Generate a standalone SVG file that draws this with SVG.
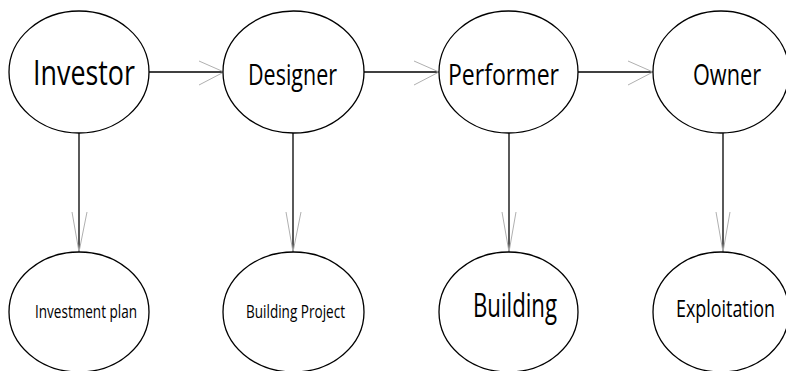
<svg xmlns="http://www.w3.org/2000/svg" width="786" height="371" viewBox="0 0 786 371">
<style>
.n{fill:#fff;stroke:#000;stroke-width:1.3}
.t{font-family:"Open Sans","Liberation Sans",sans-serif;fill:#000}
.c{stroke:#000;stroke-width:1.3;fill:none}
.h{stroke:#b0b0b0;stroke-width:1;fill:none}
</style>
<rect width="786" height="371" fill="#fff"/>
<g id="connectors">
<line class="c" x1="149" y1="72" x2="223" y2="72"/>
<polyline class="h" points="199,61 224,72 199,85"/>
<line class="c" x1="364" y1="72" x2="439" y2="72"/>
<polyline class="h" points="414,61 439,72 414,85"/>
<line class="c" x1="578" y1="72" x2="653" y2="72"/>
<polyline class="h" points="628,61 653,72 628,85"/>
<line class="c" x1="79" y1="133" x2="79" y2="252"/>
<polyline class="h" points="72,212 79,252 87,212"/>
<line class="c" x1="293" y1="133" x2="293" y2="252"/>
<polyline class="h" points="286,212 293,252 301,212"/>
<line class="c" x1="509" y1="133" x2="509" y2="252"/>
<polyline class="h" points="502,212 509,252 516,212"/>
<line class="c" x1="723" y1="133" x2="723" y2="252"/>
<polyline class="h" points="716,212 723,252 730,212"/>
</g>
<g id="investor"><ellipse class="n" cx="79" cy="72" rx="70" ry="61"/><text class="t" x="33" y="85" font-size="34" textLength="102" lengthAdjust="spacingAndGlyphs">Investor</text></g>
<g id="designer"><ellipse class="n" cx="293.5" cy="72" rx="70.5" ry="61"/><text class="t" x="248" y="85" font-size="30" textLength="89" lengthAdjust="spacingAndGlyphs">Designer</text></g>
<g id="performer"><ellipse class="n" cx="508.5" cy="72" rx="69.5" ry="61"/><text class="t" x="448" y="85" font-size="30" textLength="111" lengthAdjust="spacingAndGlyphs">Performer</text></g>
<g id="owner"><ellipse class="n" cx="721" cy="72" rx="68" ry="61"/><text class="t" x="693" y="85" font-size="30" textLength="68" lengthAdjust="spacingAndGlyphs">Owner</text></g>
<g id="investment-plan"><ellipse class="n" cx="79" cy="312" rx="70" ry="60"/><text class="t" x="35" y="318" font-size="19" textLength="102" lengthAdjust="spacingAndGlyphs">Investment plan</text></g>
<g id="building-project"><ellipse class="n" cx="293.5" cy="312" rx="70.5" ry="60"/><text class="t" x="246" y="318" font-size="19" textLength="99" lengthAdjust="spacingAndGlyphs">Building Project</text></g>
<g id="building"><ellipse class="n" cx="508.5" cy="312" rx="69.5" ry="60"/><text class="t" x="473" y="317" font-size="33" textLength="84" lengthAdjust="spacingAndGlyphs">Building</text></g>
<g id="exploitation"><ellipse class="n" cx="721" cy="312" rx="68" ry="60"/><text class="t" x="676" y="317" font-size="24" textLength="99" lengthAdjust="spacingAndGlyphs">Exploitation</text></g>
</svg>
